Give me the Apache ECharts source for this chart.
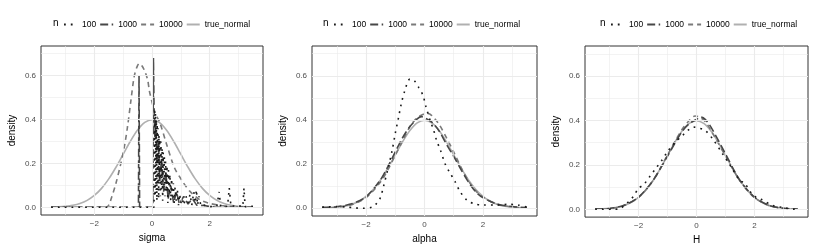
<!DOCTYPE html>
<html><head><meta charset="utf-8">
<script src="https://cdn.jsdelivr.net/npm/echarts@6/dist/echarts.min.js"></script>
<style>html,body{margin:0;padding:0;background:#fff}#c{width:817px;height:250px}</style>
</head><body><div id="c"></div>
<script>
// ---------- data ----------
const seriesNames = ['100', '1000', '10000', 'true_normal'];
const panelNames = ['sigma', 'alpha', 'H'];
const xTickValues = [-2, 0, 2];
const yTickValues = [0, 0.2, 0.4, 0.6];
const xMinorValues = [-3, -1, 1, 3];
const yMinorValues = [0.1, 0.3, 0.5, 0.7];

// true normal density
const normalX = [-3.5,-3.25,-3,-2.75,-2.5,-2.25,-2,-1.75,-1.5,-1.25,-1,-0.75,-0.5,-0.25,0,0.25,0.5,0.75,1,1.25,1.5,1.75,2,2.25,2.5,2.75,3,3.25,3.5];
const normalY = [0.0009,0.002,0.0044,0.0091,0.0175,0.0317,0.054,0.0863,0.1295,0.1826,0.242,0.3011,0.3521,0.3867,0.3989,0.3867,0.3521,0.3011,0.242,0.1826,0.1295,0.0863,0.054,0.0317,0.0175,0.0091,0.0044,0.002,0.0009];

// sigma panel
const sigma100X = [-3.5,0.07,0.08,0.09,0.11,0.12,0.14,0.15,0.17,0.18,0.20,0.21,0.23,0.24,0.26,0.27,0.29,0.31,0.33,0.35,0.37,0.39,0.41,0.43,0.45,0.47,0.50,0.52,0.55,0.57,0.60,0.62,0.65,0.68,0.71,0.74,0.77,0.80,0.84,0.88,0.92,0.96,1.00,1.05,1.10,1.18,1.25,1.32,1.38,1.45,1.50,1.54,1.58,1.63,1.70,1.80,2.00,2.25,2.33,2.38,2.62,2.68,2.74,2.95,3.15,3.19,3.23,3.50];
const sigma100Y = [0,0,0.0,0.45,0.05,0.43,0.08,0.40,0.03,0.38,0.10,0.36,0.04,0.33,0.12,0.31,0.05,0.30,0.08,0.27,0.03,0.25,0.10,0.23,0.05,0.21,0.07,0.19,0.02,0.17,0.06,0.15,0.03,0.13,0.05,0.11,0.02,0.09,0.03,0.08,0.01,0.06,0.02,0.04,0.01,0.05,0.02,0.06,0.01,0.07,0.02,0.08,0.01,0.05,0.005,0.01,0.003,0.005,0.07,0.003,0.005,0.088,0.003,0.01,0.002,0.088,0.003,0.005];
const sigma1000X = [-3.5,-0.47,-0.45,-0.43,0.03,0.05,0.07,0.10,0.13,0.17,0.22,0.27,0.33,0.40,0.48,0.56,0.65,0.75,0.85,0.95,1.1,1.25,1.4,1.55,1.8,2.2,3.5];
const sigma1000Y = [0,0,0.6,0,0,0.68,0.46,0.32,0.40,0.20,0.30,0.12,0.22,0.07,0.16,0.04,0.10,0.02,0.07,0.015,0.05,0.015,0.04,0.01,0.008,0.0,0];
const sigma10000X = [-3.5,-1.6,-1.5,-1.43,-1.25,-1.08,-0.96,-0.85,-0.73,-0.62,-0.52,-0.44,-0.35,-0.25,-0.15,-0.09,0.0,0.1,0.26,0.5,0.78,1.05,1.3,1.65,2.0,2.4,2.8,3.5];
const sigma10000Y = [0,0,0.01,0.033,0.11,0.2,0.275,0.366,0.488,0.594,0.64,0.655,0.645,0.62,0.58,0.53,0.48,0.43,0.39,0.29,0.18,0.12,0.075,0.035,0.018,0.008,0.003,0];

// alpha panel
const alpha100X = [-3.5,-3.3,-3.0,-2.7,-2.4,-2.1,-1.8,-1.65,-1.52,-1.4,-1.25,-1.11,-1.0,-0.89,-0.8,-0.68,-0.5,-0.35,-0.2,-0.05,0.05,0.2,0.31,0.42,0.54,0.71,0.85,1.05,1.22,1.45,1.7,2.0,2.5,2.9,3.2,3.5];
const alpha100Y = [0.005,0.006,0.008,0.006,0.002,0.0,0.005,0.02,0.045,0.1,0.18,0.26,0.34,0.41,0.47,0.53,0.585,0.578,0.548,0.51,0.46,0.395,0.355,0.305,0.265,0.2,0.165,0.12,0.075,0.037,0.02,0.015,0.015,0.018,0.015,0.005];
const alpha1000X = [-3.5,-3,-2.5,-2,-1.5,-1.25,-1,-0.75,-0.5,-0.25,-0.1,0,0.25,0.5,0.75,1,1.25,1.5,1.75,2,2.5,3,3.5];
const alpha1000Y = [0.004,0.007,0.02,0.052,0.13,0.19,0.255,0.32,0.37,0.405,0.415,0.41,0.39,0.35,0.29,0.235,0.175,0.12,0.075,0.048,0.018,0.008,0.003];
const alpha10000X = [-3.5,-3,-2.5,-2,-1.5,-1.25,-1,-0.75,-0.5,-0.25,0,0.1,0.25,0.5,0.75,1,1.25,1.5,1.75,2,2.5,3,3.5];
const alpha10000Y = [0.002,0.005,0.016,0.048,0.12,0.175,0.24,0.305,0.37,0.41,0.428,0.43,0.42,0.38,0.32,0.255,0.185,0.125,0.08,0.05,0.018,0.006,0.002];

// H panel
const h100X = [-3.5,-2.9,-2.63,-2.34,-2.17,-2.0,-1.83,-1.6,-1.43,-1.2,-1.0,-0.75,-0.5,-0.3,-0.1,0.1,0.3,0.57,0.9,1.2,1.49,1.66,1.94,2.23,2.63,3.03,3.4,3.5];
const h100Y = [0,0,0.004,0.035,0.06,0.095,0.11,0.15,0.18,0.22,0.26,0.3,0.33,0.355,0.37,0.365,0.355,0.315,0.25,0.19,0.13,0.118,0.065,0.045,0.018,0.007,0,0];
const h1000X = [-3.5,-3,-2.5,-2,-1.5,-1,-0.5,-0.25,0,0.15,0.3,0.5,1,1.5,2,2.5,3,3.5];
const h1000Y = [0.001,0.004,0.018,0.055,0.13,0.24,0.35,0.385,0.405,0.415,0.405,0.37,0.25,0.13,0.055,0.018,0.005,0.001];
const h10000X = [-3.5,-3,-2.5,-2,-1.5,-1,-0.5,-0.25,-0.05,0.1,0.3,0.5,1,1.5,2,2.5,3,3.5];
const h10000Y = [0.001,0.004,0.017,0.054,0.13,0.245,0.36,0.4,0.42,0.415,0.395,0.355,0.24,0.128,0.053,0.017,0.004,0.001];

// ---------- build ----------
const zip = (xs, ys) => xs.map((x, i) => [x, ys[i]]);
const panels = [
  { '100': [sigma100X, sigma100Y, false], '1000': [sigma1000X, sigma1000Y, false], '10000': [sigma10000X, sigma10000Y, 0.3] },
  { '100': [alpha100X, alpha100Y, 0.3], '1000': [alpha1000X, alpha1000Y, 0.3], '10000': [alpha10000X, alpha10000Y, 0.3] },
  { '100': [h100X, h100Y, 0.3], '1000': [h1000X, h1000Y, 0.3], '10000': [h10000X, h10000Y, 0.3] }
];
const FONT = 'Liberation Sans, Arial, sans-serif';
const styles = {
  '100': { color: '#1a1a1a', type: [1.8, 5], width: 1.6 },
  '1000': { color: '#474747', type: [8, 3.5], width: 1.6 },
  '10000': { color: '#7a7a7a', type: [5, 4], width: 1.6 },
  'true_normal': { color: '#b0b0b0', type: 'solid', width: 1.6 }
};
const grids = [
  { left: 41, top: 46, width: 222, height: 169 },
  { left: 312, top: 46, width: 225, height: 170 },
  { left: 585, top: 46, width: 223, height: 172 }
];
const legendLeft = [63, 333, 610];
const nLeft = [53, 323, 600];

const option = {
  animation: false,
  backgroundColor: '#fff',
  textStyle: { fontFamily: FONT },
  grid: grids.map(g => Object.assign({ show: true, borderColor: '#333', borderWidth: 1, backgroundColor: 'transparent' }, g)),
  xAxis: grids.map((g, i) => ({
    type: 'value', gridIndex: i, min: -3.85, max: 3.85,
    name: panelNames[i], nameLocation: 'middle', nameGap: 16,
    nameTextStyle: { fontSize: 10, color: '#000', fontFamily: FONT },
    axisLine: { show: false },
    axisTick: { show: true, customValues: xTickValues, length: 3, lineStyle: { color: '#333', width: 1 } },
    axisLabel: { customValues: xTickValues, fontSize: 8, color: '#4d4d4d', margin: 5, fontFamily: FONT,
      formatter: v => (v < 0 ? '\u2212' + Math.abs(v) : String(v)) },
    splitLine: { show: false }
  })),
  yAxis: grids.map((g, i) => ({
    type: 'value', gridIndex: i, min: -0.035, max: 0.735,
    name: 'density', nameLocation: 'middle', nameGap: 24,
    nameTextStyle: { fontSize: 10, color: '#000', fontFamily: FONT },
    axisLine: { show: false },
    axisTick: { show: true, customValues: yTickValues, length: 3, lineStyle: { color: '#333', width: 1 } },
    axisLabel: { customValues: yTickValues, fontSize: 8, color: '#4d4d4d', margin: 5, fontFamily: FONT,
      formatter: v => v.toFixed(1) },
    splitLine: { show: false }
  })),
  legend: grids.map((g, i) => ({
    data: seriesNames, left: legendLeft[i], top: 20, orient: 'horizontal',
    itemWidth: 13, itemHeight: 8, itemGap: 3, padding: 0, selectedMode: false,
    itemStyle: { color: 'rgba(0,0,0,0)', borderColor: 'rgba(0,0,0,0)', borderWidth: 0 },
    textStyle: { fontSize: 8.5, color: '#000', fontFamily: FONT }
  })),
  graphic: nLeft.map(l => ({
    type: 'text', left: l, top: 18, style: { text: 'n', font: '10px ' + FONT, fill: '#000' }
  })),
  series: []
};

grids.forEach((g, i) => {
  option.series.push({
    type: 'line', xAxisIndex: i, yAxisIndex: i, data: [], silent: true, z: 0,
    markLine: { silent: true, symbol: ['none', 'none'], label: { show: false }, animation: false,
      lineStyle: { color: '#ebebeb', width: 0.6, type: 'solid' },
      data: xMinorValues.map(v => ({ xAxis: v })).concat(yMinorValues.map(v => ({ yAxis: v }))) }
  });
  option.series.push({
    type: 'line', xAxisIndex: i, yAxisIndex: i, data: [], silent: true, z: 0,
    markLine: { silent: true, symbol: ['none', 'none'], label: { show: false }, animation: false,
      lineStyle: { color: '#ebebeb', width: 1.1, type: 'solid' },
      data: xTickValues.map(v => ({ xAxis: v })).concat(yTickValues.map(v => ({ yAxis: v }))) }
  });
  option.series.push({
    name: 'true_normal', type: 'line', xAxisIndex: i, yAxisIndex: i, showSymbol: false, symbol: 'none',
    smooth: 0.3, data: zip(normalX, normalY), lineStyle: styles['true_normal'], itemStyle: { color: styles['true_normal'].color }, z: 2
  });
  ['10000', '1000', '100'].forEach((nm, k) => {
    const d = panels[i][nm];
    option.series.push({
      name: nm, type: 'line', xAxisIndex: i, yAxisIndex: i, showSymbol: false, symbol: 'none',
      smooth: d[2], data: zip(d[0], d[1]), lineStyle: styles[nm], itemStyle: { color: styles[nm].color }, z: 3 + k
    });
  });
});

const chart = echarts.init(document.getElementById('c'), null, { renderer: 'canvas' });
chart.setOption(option);
</script></body></html>
